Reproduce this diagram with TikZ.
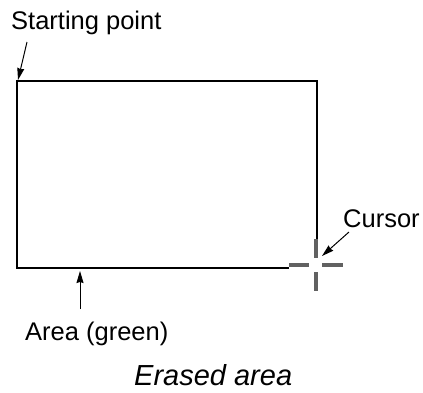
\documentclass[tikz,border=0pt]{standalone}
\usepackage{fontspec}
\setmainfont{Liberation Sans}
\usetikzlibrary{arrows.meta}

\tikzset{
  label/.style={inner sep=0pt,anchor=base west,font=\fontsize{25.5}{30}\selectfont},
  bar/.style={draw=black!62,line width=4pt},
  pointer/.style={line width=1pt,-{Stealth[length=12pt,width=7pt,inset=1pt]}},
}

\begin{document}
\begin{tikzpicture}[x=1pt,y=-1pt]
\useasboundingbox (0,0) rectangle (423,392);
% area outline, cut open at the cursor
\draw[line width=1.1pt] (317,239)--(317,81)--(17,81)--(17,268)--(289,268);
% cursor
\draw[bar] (316,239)--(316,258);
\draw[bar] (316,272)--(316,291);
\draw[bar] (289,265)--(309,265);
\draw[bar] (322,265)--(343,265);
\coordinate (tip) at (322,256);
\coordinate (corner) at (18,80);
\coordinate (edge) at (80,271);
% labels
\node[label] (start) at (11,29) {Starting point};
\node[label] (cursor) at (343,227) {Cursor};
\node[label] (area) at (25,340) {Area (green)};
\node[label,font=\fontsize{29}{34}\selectfont\itshape] (erased) at (134,385) {Erased area};
\coordinate (s0) at (27,42);
\coordinate (c0) at (349,232);
\coordinate (a0) at (80,309);
\draw[pointer] (s0)--(corner);
\draw[pointer] (c0)--(tip);
\draw[pointer] (a0)--(edge);
\end{tikzpicture}
\end{document}
